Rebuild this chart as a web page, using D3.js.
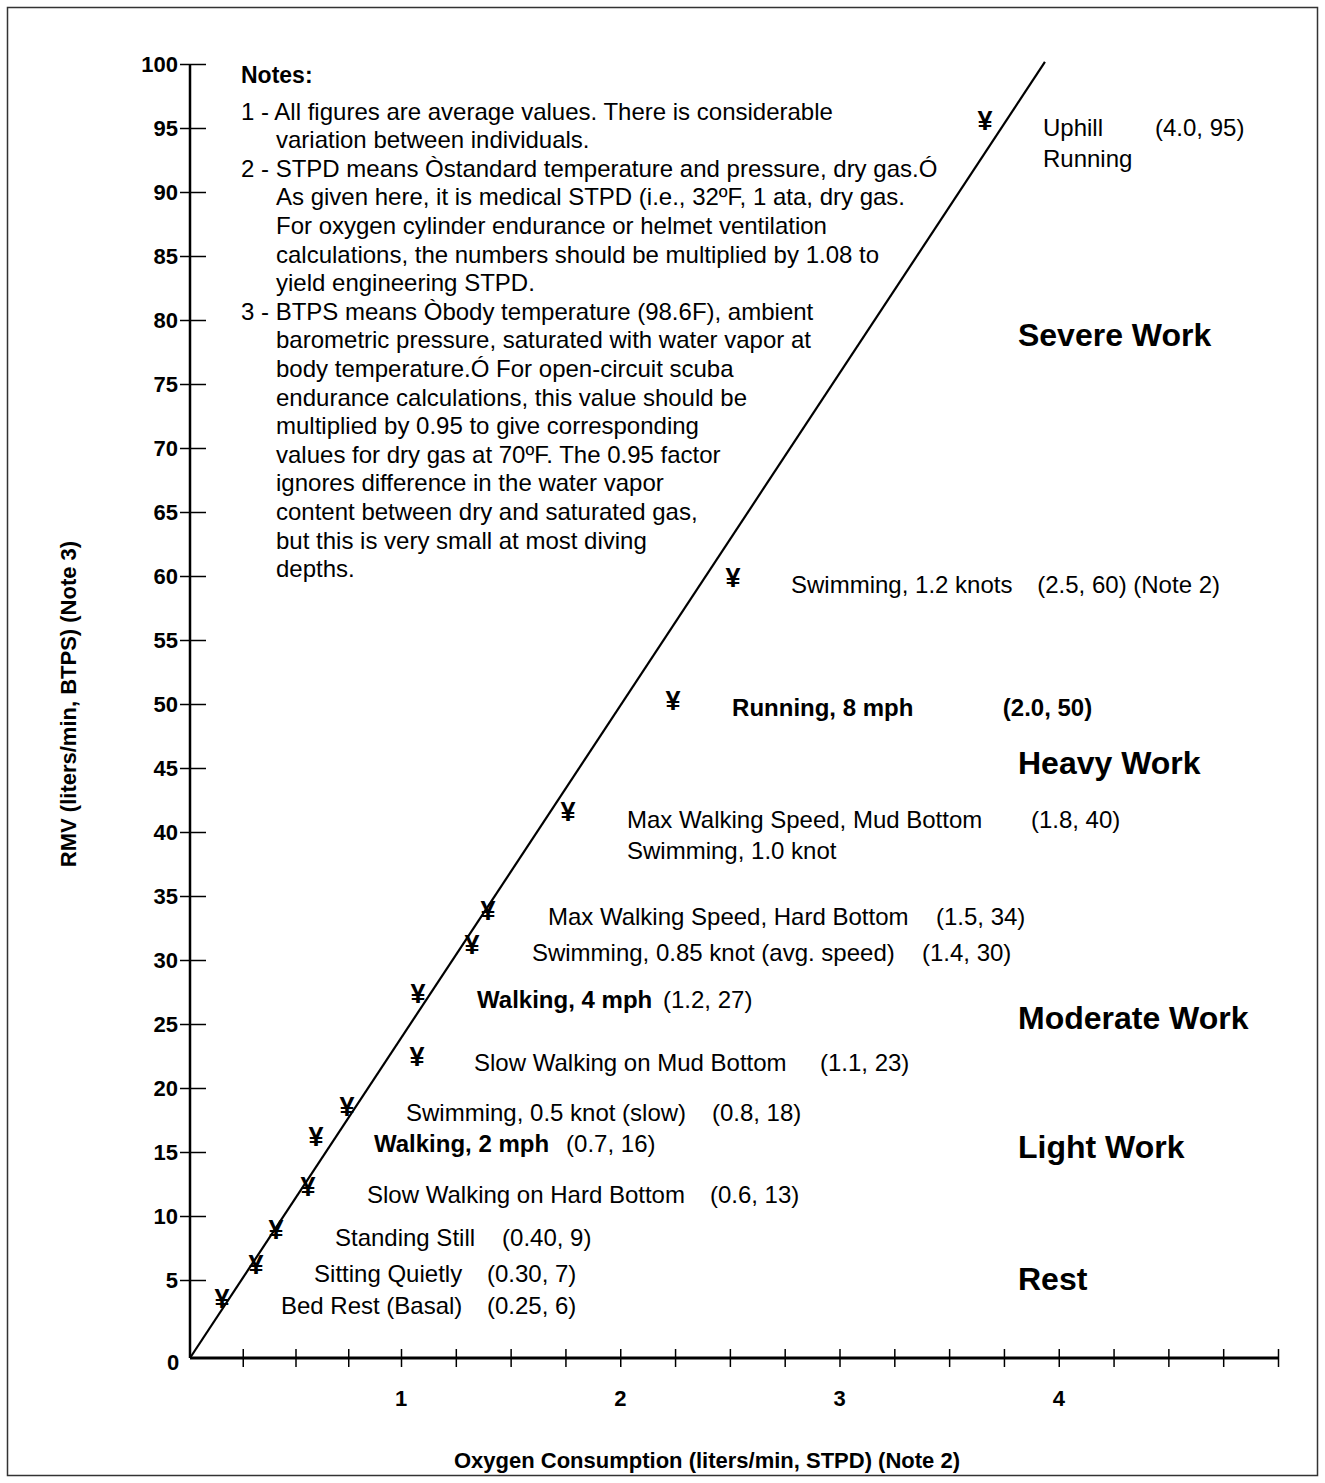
<!DOCTYPE html>
<html><head><meta charset="utf-8">
<script src="https://cdn.jsdelivr.net/npm/d3@7"></script>
<style>
body{margin:0;background:#fff}
svg{display:block}
text{font-family:"Liberation Sans", Arial, Helvetica, sans-serif; fill:#000}
</style>
</head><body>
<svg id="chart" width="1325" height="1483"></svg>
<script>
// ---------------- data ----------------
const activities = [
  "Bed Rest (Basal)", "Sitting Quietly", "Standing Still", "Slow Walking on Hard Bottom",
  "Walking, 2 mph", "Swimming, 0.5 knot (slow)", "Slow Walking on Mud Bottom", "Walking, 4 mph",
  "Swimming, 0.85 knot (avg. speed)", "Max Walking Speed, Hard Bottom",
  "Max Walking Speed, Mud Bottom\nSwimming, 1.0 knot", "Running, 8 mph",
  "Swimming, 1.2 knots", "Uphill\nRunning"
];
// plotted marker positions
const oxygenUse = [0.152, 0.313, 0.408, 0.559, 0.597, 0.744, 1.073, 1.078, 1.324, 1.397, 1.762, 2.241, 2.514, 3.664];
const rmvValues = [3.85, 6.2, 9.0, 12.3, 16.2, 18.6, 22.5, 27.4, 31.2, 33.9, 41.6, 50.3, 59.9, 95.6];
const statedValues = [
  "(0.25, 6)", "(0.30, 7)", "(0.40, 9)", "(0.6, 13)", "(0.7, 16)", "(0.8, 18)", "(1.1, 23)",
  "(1.2, 27)", "(1.4, 30)", "(1.5, 34)", "(1.8, 40)", "(2.0, 50)", "(2.5, 60) (Note 2)", "(4.0, 95)"
];
const workLevels = ["Rest", "Light Work", "Moderate Work", "Heavy Work", "Severe Work"];
const workLevelRmv = [5.08, 15.4, 25.5, 45.4, 78.9];
const trendLine = [[0, 0], [3.937, 100.16]];
const xTicks = d3.range(0.25, 5.001, 0.25);
const xTickLabels = ["1", "2", "3", "4"];
const yTicks = d3.range(5, 100.001, 5);
const notesLines = [
  "1 - All figures are average values. There is considerable",
  "variation between individuals.",
  "2 - STPD means \u00D2standard temperature and pressure, dry gas.\u00D3",
  "As given here, it is medical STPD (i.e., 32\u00BAF, 1 ata, dry gas.",
  "For oxygen cylinder endurance or helmet ventilation",
  "calculations, the numbers should be multiplied by 1.08 to",
  "yield engineering STPD.",
  "3 - BTPS means \u00D2body temperature (98.6F), ambient",
  "barometric pressure, saturated with water vapor at",
  "body temperature.\u00D3 For open-circuit scuba",
  "endurance calculations, this value should be",
  "multiplied by 0.95 to give corresponding",
  "values for dry gas at 70\u00BAF. The 0.95 factor",
  "ignores difference in the water vapor",
  "content between dry and saturated gas,",
  "but this is very small at most diving",
  "depths."
];

// ---------------- layout (not data) ----------------
const boldRows = [4, 7, 11];
const boldValueRows = [11];
// label anchor positions in data units: [name x, value x, y]
const labelLayout = [
  [0.431, 1.392, 3.40], [0.588, 1.392, 5.55], [0.687, 1.461, 8.36], [0.839, 2.409, 11.72],
  [0.872, 1.753, 15.70], [1.023, 2.418, 18.13], [1.333, 2.911, 22.03], [1.347, 2.195, 26.95],
  [1.597, 3.376, 30.63], [1.670, 3.440, 33.44], [2.031, 3.873, 41.02], [2.510, 3.745, 49.77],
  [2.779, 3.902, 59.38], [3.928, 4.439, 95.08]
];
const zoneX = 3.814;

const svg = d3.select("#chart");
const W = 1325, H = 1483;

const x = d3.scaleLinear().domain([0, 1, 5]).range([190, 401, 1278]);
const y = d3.scaleLinear().domain([0, 5, 100]).range([1358, 1280, 64]);

// border
svg.append("rect").attr("x", 7.5).attr("y", 7.5).attr("width", W - 15).attr("height", H - 15)
  .attr("fill", "none").attr("stroke", "#333").attr("stroke-width", 1.5);

// y axis
const yAxis = d3.axisLeft(y).tickValues(yTicks).tickSize(0).tickPadding(12).tickFormat(d3.format("d"));
const gy = svg.append("g").attr("transform", `translate(${x(0)},0)`).call(yAxis);
gy.select(".domain").remove();
gy.selectAll(".tick").append("line").attr("x1", -10).attr("x2", 16).attr("stroke", "#000").attr("stroke-width", 1.5);
gy.selectAll("text").attr("font-size", 22).attr("font-weight", "bold")
  .attr("font-family", "'Liberation Sans', Arial, sans-serif").attr("fill", "#000");
svg.append("line").attr("x1", x(0)).attr("x2", x(0)).attr("y1", y(0)).attr("y2", y(100))
  .attr("stroke", "#000").attr("stroke-width", 2.5);

// x axis
const xAxis = d3.axisBottom(x).tickValues(xTicks).tickSize(0).tickFormat(() => "");
const gx = svg.append("g").attr("transform", `translate(0,${y(0)})`).call(xAxis);
gx.select(".domain").remove();
gx.selectAll(".tick").append("line").attr("y1", -9).attr("y2", 9).attr("stroke", "#000").attr("stroke-width", 1.5);
svg.append("line").attr("x1", x(0)).attr("x2", x(5)).attr("y1", y(0)).attr("y2", y(0))
  .attr("stroke", "#000").attr("stroke-width", 3);
svg.append("g").selectAll("text").data(xTickLabels).join("text")
  .attr("x", d => x(+d)).attr("y", y(0) + 48).attr("text-anchor", "middle")
  .attr("font-size", 22).attr("font-weight", "bold").text(d => d);
svg.append("text").attr("x", x(0) - 17).attr("y", y(0) + 12).attr("text-anchor", "middle")
  .attr("font-size", 22).attr("font-weight", "bold").text("0");

// axis titles
svg.append("text").attr("x", 707).attr("y", y(0) + 110).attr("text-anchor", "middle")
  .attr("font-size", 22).attr("font-weight", "bold").text("Oxygen Consumption (liters/min, STPD) (Note 2)");
svg.append("text").attr("transform", `translate(76,${y(50)}) rotate(-90)`).attr("text-anchor", "middle")
  .attr("font-size", 22).attr("font-weight", "bold").text("RMV (liters/min, BTPS) (Note 3)");

// trend line
svg.append("path").datum(trendLine)
  .attr("d", d3.line().x(d => x(d[0])).y(d => y(d[1])))
  .attr("fill", "none").attr("stroke", "#000").attr("stroke-width", 2.2);

// markers
svg.append("g").selectAll("text").data(activities).join("text")
  .attr("x", (d, i) => x(oxygenUse[i])).attr("y", (d, i) => y(rmvValues[i]))
  .attr("dy", "0.36em").attr("text-anchor", "middle")
  .attr("font-size", 27).attr("font-weight", "bold").text("\u00A5");

// activity labels
const lab = svg.append("g");
activities.forEach((name, i) => {
  const [nx, vx, ly] = labelLayout[i];
  const lines = name.split("\n");
  const t = lab.append("text").attr("x", x(nx)).attr("y", y(ly))
    .attr("font-size", 24).attr("font-weight", boldRows.includes(i) ? "bold" : "normal");
  lines.forEach((ln, k) => {
    t.append("tspan").attr("x", x(nx)).attr("dy", k === 0 ? "0.36em" : "1.3em").text(ln);
  });
  lab.append("text").attr("x", x(vx)).attr("y", y(ly)).attr("dy", "0.36em")
    .attr("font-size", 24).attr("font-weight", boldValueRows.includes(i) ? "bold" : "normal")
    .text(statedValues[i]);
});

// work level labels
svg.append("g").selectAll("text").data(workLevels).join("text")
  .attr("x", x(zoneX)).attr("y", (d, i) => y(workLevelRmv[i])).attr("dy", "0.36em")
  .attr("font-size", 32).attr("font-weight", "bold").text(d => d);

// notes
const notes = svg.append("g");
notes.append("text").attr("x", 241).attr("y", 75).attr("dy", "0.36em")
  .attr("font-size", 23).attr("font-weight", "bold").text("Notes:");
notesLines.forEach((ln, i) => {
  const numbered = /^\d - /.test(ln);
  notes.append("text").attr("x", numbered ? 241 : 276).attr("y", 111 + i * 28.6).attr("dy", "0.36em")
    .attr("font-size", 24).text(ln);
});
</script>
</body></html>
